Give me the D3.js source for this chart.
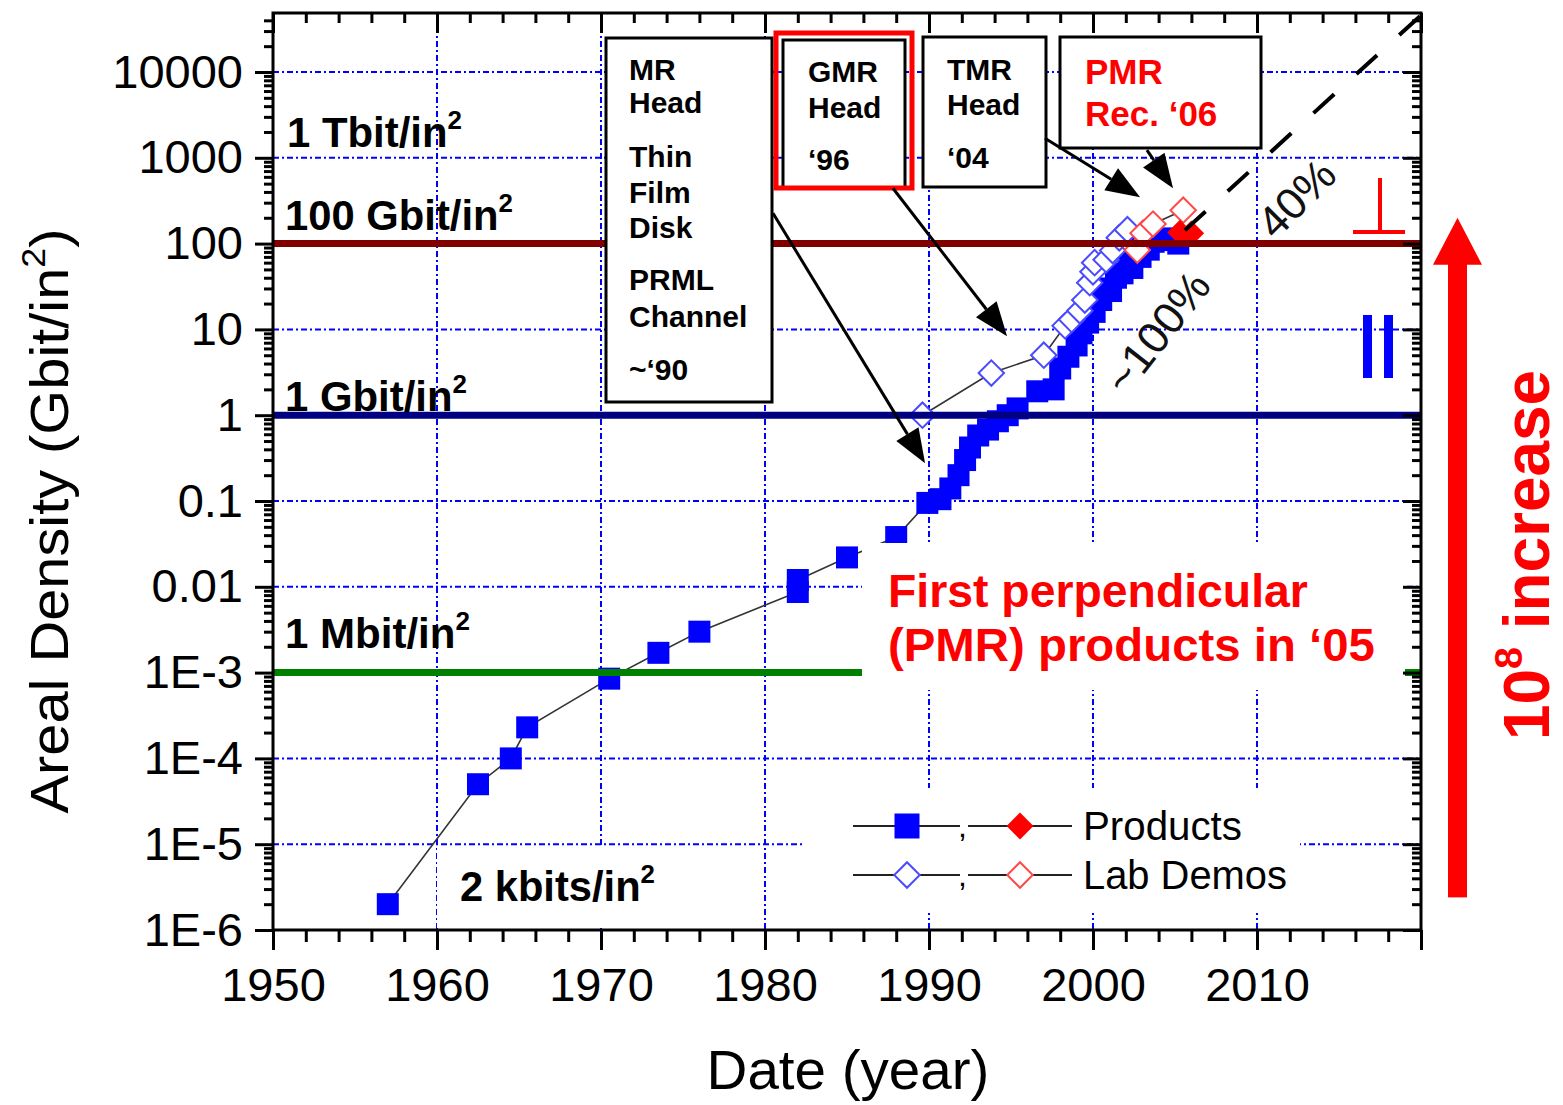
<!DOCTYPE html>
<html><head><meta charset="utf-8">
<script src="https://cdn.jsdelivr.net/npm/d3@7/dist/d3.min.js"></script>
<style>html,body{margin:0;padding:0;background:#fff;} svg{display:block;}</style>
</head><body>
<svg id="chart" width="1563" height="1105"></svg>
<script>
// ---------------- DATA ----------------
const productYears = [1957, 1962.5, 1964.5, 1965.5, 1970.5, 1973.5, 1976, 1982, 1982, 1985, 1988,
  1989.9, 1990.7, 1991.3, 1991.8, 1992.2, 1992.5, 1993.0, 1993.6, 1994.2, 1994.8, 1995.4, 1996.6, 1997.6,
  1998.0, 1998.5, 1999.0, 1999.3, 1999.7, 1999.9, 2000.1, 2000.5, 2000.7, 2001.1, 2001.4, 2001.8, 2002.2,
  2002.4, 2002.9, 2003.0, 2003.4, 2003.7, 2004.1, 2004.4, 2004.8, 2005.2];
const productValues = [2e-6, 5e-5, 1e-4, 2.3e-4, 8.5e-4, 1.7e-3, 3e-3, 8.7e-3, 1.2e-2, 2.2e-2, 3.8e-2,
  0.095, 0.105, 0.14, 0.2, 0.3, 0.42, 0.58, 0.68, 0.85, 1.0, 1.2, 1.9, 2.0,
  3.5, 4.8, 6.5, 9, 12, 20, 16, 22, 30, 28, 40, 45, 60,
  52, 70, 100, 85, 105, 110, 110, 115, 100];
const pmrProductYears = [2005.3, 2006.0];
const pmrProductValues = [135, 132];
const demoYears = [1989.6, 1993.8, 1997.0, 1998.3, 1998.7, 1999.2, 1999.5, 1999.8, 2000.0, 2000.1, 2000.8, 2001.2, 2001.6, 2002.1];
const demoValues = [1.0, 3.1, 5.0, 11, 13, 16.5, 22, 35, 47, 60, 65, 83, 117, 145];
const pmrDemoYears = [2002.7, 2003.05, 2003.66, 2005.5];
const pmrDemoValues = [84, 132, 169, 245];
const trendYears = [2005.6, 2020];
const trendValues = [143, 45900];
const xTickValues = [1950, 1960, 1970, 1980, 1990, 2000, 2010, 2020];
const xTickLabels = ["1950", "1960", "1970", "1980", "1990", "2000", "2010", ""];
const yTickValues = [1e-6, 1e-5, 1e-4, 1e-3, 1e-2, 1e-1, 1, 10, 100, 1000, 10000];
const yTickLabels = ["1E-6", "1E-5", "1E-4", "1E-3", "0.01", "0.1", "1", "10", "100", "1000", "10000"];
const refValues = [100, 1, 1e-3];
const refColors = ["#800000", "#000080", "#008000"];
const levelLabels = ["1 Tbit/in", "100 Gbit/in", "1 Gbit/in", "1 Mbit/in", "2 kbits/in"];
const arrowFromYears = [1980.49, 1987.8, 1997.07, 2003.29];
const arrowFromValues = [226, 442, 1692, 1227];
const arrowToYears = [1989.76, 1994.76, 2002.87, 2004.88];
const arrowToValues = [0.276, 8.33, 347, 442];
const boxTextsA = ["MR", "Head", "Thin", "Film", "Disk", "PRML", "Channel", "~\u201890"];
const boxTextsB = ["GMR", "Head", "\u201896"];
const boxTextsC = ["TMR", "Head", "\u201804"];
const boxTextsD = ["PMR", "Rec. \u201806"];
const legendLabels = ["Products", "Lab Demos"];

// ---------------- SETUP ----------------
const FONT = "'Liberation Sans', Arial, Helvetica, sans-serif";
const svg = d3.select("#chart");
svg.append("rect").attr("width", 1563).attr("height", 1105).attr("fill", "#fff");
const L = 273, R = 1421, T = 13, B = 930;
const x = d3.scaleLinear().domain([1950, 2020]).range([L, R]);
const y = d3.scaleLog().domain([1e-6, 1e4]).range([B, 72]);
const yTop = y.invert(T);

function label(parent, o) {
  const g = parent.append("g").attr("transform", `translate(${o.x},${o.y})${o.rot ? ` rotate(${o.rot})` : ""}`);
  const t = g.append("text").attr("font-family", FONT).attr("font-size", o.size)
    .attr("font-weight", o.bold ? "bold" : "normal").attr("fill", o.fill || "#000")
    .attr("text-anchor", o.anchor || "start");
  if (o.baseline) t.attr("dominant-baseline", o.baseline);
  let shift = 0;
  (Array.isArray(o.text) ? o.text : [o.text]).forEach(p => {
    if (typeof p === "string") {
      const ts = t.append("tspan").text(p);
      if (shift) { ts.attr("dy", shift); shift = 0; }
    } else {
      const r = o.size * 0.42;
      t.append("tspan").attr("font-size", o.size * 0.62).attr("dy", -r).text(p.sup);
      shift = r;
    }
  });
  if (o.width) {
    const w = t.node().getComputedTextLength();
    if (w > 0) t.attr("transform", `scale(${o.width / w},1)`);
  }
  return g;
}

// ---------------- GRID ----------------
const grid = svg.append("g").attr("stroke", "#0000ff").attr("stroke-width", 2).attr("stroke-dasharray", "6,3,2,3");
grid.selectAll("line.h").data(yTickValues.filter(v => v > 1e-6)).join("line")
  .attr("x1", L).attr("x2", R).attr("y1", d => y(d)).attr("y2", d => y(d));
grid.selectAll("line.v").data(xTickValues.filter(v => v > 1950 && v < 2020)).join("line")
  .attr("class", "v").attr("y1", T).attr("y2", B).attr("x1", d => x(d)).attr("x2", d => x(d));

// ---------------- DATA LINES & MARKERS ----------------
const lineGen = d3.line().x(d => x(d[0])).y(d => y(d[1]));
const prod = productYears.map((yr, i) => [yr, productValues[i]]);
const pmrProd = pmrProductYears.map((yr, i) => [yr, pmrProductValues[i]]);
const demo = demoYears.map((yr, i) => [yr, demoValues[i]]);
const pmrDemo = pmrDemoYears.map((yr, i) => [yr, pmrDemoValues[i]]);
const dataG = svg.append("g");
[prod, demo, pmrDemo, pmrProd].forEach(s => {
  dataG.append("path").attr("d", lineGen(s)).attr("fill", "none").attr("stroke", "#333").attr("stroke-width", 1.6);
});
const sq = d3.symbol().type(d3.symbolSquare).size(22 * 22);
const dm = d3.symbol().type(d3.symbolSquare).size(18 * 18);
dataG.selectAll("path.prod").data(prod).join("path").attr("class", "prod")
  .attr("d", sq).attr("transform", d => `translate(${x(d[0])},${y(d[1])})`).attr("fill", "#0000ff");
dataG.selectAll("path.demo").data(demo).join("path").attr("class", "demo")
  .attr("d", dm).attr("transform", d => `translate(${x(d[0])},${y(d[1])}) rotate(45)`)
  .attr("fill", "#fff").attr("stroke", "#4a4aff").attr("stroke-width", 2);
dataG.selectAll("path.pdemo").data(pmrDemo).join("path").attr("class", "pdemo")
  .attr("d", dm).attr("transform", d => `translate(${x(d[0])},${y(d[1])}) rotate(45)`)
  .attr("fill", "#fff").attr("stroke", "#ff4a4a").attr("stroke-width", 2);
dataG.selectAll("path.pprod").data(pmrProd).join("path").attr("class", "pprod")
  .attr("d", dm).attr("transform", d => `translate(${x(d[0])},${y(d[1])}) rotate(45)`)
  .attr("fill", "#ff0000");

// ---------------- REFERENCE LINES ----------------
refValues.forEach((v, i) => {
  svg.append("line").attr("x1", L).attr("x2", R).attr("y1", y(v)).attr("y2", y(v))
    .attr("stroke", refColors[i]).attr("stroke-width", 7);
});
// trend line (40%)
svg.append("path").attr("d", lineGen(trendYears.map((yr, i) => [yr, trendValues[i]])))
  .attr("stroke", "#000").attr("stroke-width", 4).attr("stroke-dasharray", "28,30").attr("fill", "none");

// ---------------- WHITE LABEL BACKGROUNDS ----------------
const bg = svg.append("g").attr("fill", "#fff");
bg.append("rect").attr("x", 437).attr("y", 846).attr("width", 247).attr("height", 82);
bg.append("rect").attr("x", 862).attr("y", 543).attr("width", 543).attr("height", 147);
bg.append("rect").attr("x", 805).attr("y", 788).attr("width", 495).attr("height", 125);

// ---------------- AXES ----------------
const minorY = [];
for (let d = -6; d <= 4; d++) for (let k = 2; k <= 9; k++) { const v = k * Math.pow(10, d); if (v <= yTop) minorY.push(v); }
const minorX = d3.range(1952, 2020, 2).filter(v => v % 10 !== 0);
function styleAxis(g) {
  g.select(".domain").remove();
  g.selectAll("line").attr("stroke", "#000").attr("stroke-width", 3);
  g.selectAll("text").attr("font-family", FONT).attr("font-size", 47).attr("fill", "#000");
}
svg.append("g").attr("transform", `translate(${L},0)`)
  .call(d3.axisLeft(y).tickValues(yTickValues).tickFormat((d, i) => yTickLabels[i]).tickSize(18).tickPadding(12))
  .call(styleAxis);
svg.append("g").attr("transform", `translate(${L},0)`)
  .call(d3.axisLeft(y).tickValues(minorY).tickFormat("").tickSize(9)).call(styleAxis);
svg.append("g").attr("transform", `translate(${R},0)`)
  .call(d3.axisLeft(y).tickValues(yTickValues).tickFormat("").tickSize(18)).call(styleAxis);
svg.append("g").attr("transform", `translate(${R},0)`)
  .call(d3.axisLeft(y).tickValues(minorY).tickFormat("").tickSize(9)).call(styleAxis);
svg.append("g").attr("transform", `translate(0,${B})`)
  .call(d3.axisBottom(x).tickValues(xTickValues).tickFormat((d, i) => xTickLabels[i]).tickSize(20).tickPadding(18))
  .call(styleAxis);
svg.append("g").attr("transform", `translate(0,${B})`)
  .call(d3.axisBottom(x).tickValues(minorX).tickFormat("").tickSize(12)).call(styleAxis);
svg.append("g").attr("transform", `translate(0,${T})`)
  .call(d3.axisBottom(x).tickValues(xTickValues).tickFormat("").tickSize(20)).call(styleAxis);
svg.append("g").attr("transform", `translate(0,${T})`)
  .call(d3.axisBottom(x).tickValues(minorX).tickFormat("").tickSize(10)).call(styleAxis);
svg.append("rect").attr("x", L).attr("y", T).attr("width", R - L).attr("height", B - T)
  .attr("fill", "none").attr("stroke", "#000").attr("stroke-width", 3);

// axis titles
label(svg, { x: 848, y: 1089, text: "Date (year)", size: 55, anchor: "middle", width: 283 });
label(svg, { x: 68, y: 521, rot: -90, text: ["Areal Density (Gbit/in", { sup: "2" }, ")"], size: 54, anchor: "middle", width: 585 });

// ---------------- LEVEL LABELS ----------------
const lvlX = [287, 285, 285, 285, 460];
const lvlY = [147, 230, 411, 648, 901];
const lvlW = [175, 228, 182, 185, 195];
levelLabels.forEach((t, i) => label(svg, { x: lvlX[i], y: lvlY[i], text: [t, { sup: "2" }], size: 42, bold: true, width: lvlW[i] }));

// ---------------- ANNOTATION BOXES ----------------
const boxes = svg.append("g");
function box(x0, y0, w, h, color, sw) {
  boxes.append("rect").attr("x", x0).attr("y", y0).attr("width", w).attr("height", h)
    .attr("fill", color ? "none" : "#fff").attr("stroke", color || "#000").attr("stroke-width", sw || 3);
}
box(606, 38, 166, 364);
box(783, 40, 122, 148);
box(776, 33, 136, 155, "#ff0000", 5);
box(923, 37, 123, 150);
box(1060, 37, 201, 111);
const aY = [80, 113, 167, 203, 238, 290, 327, 380];
boxTextsA.forEach((t, i) => label(svg, { x: 629, y: aY[i], text: t, size: 30, bold: true }));
const bY = [82, 118, 170];
boxTextsB.forEach((t, i) => label(svg, { x: 808, y: bY[i], text: t, size: 30, bold: true }));
const cY = [80, 115, 168];
boxTextsC.forEach((t, i) => label(svg, { x: 947, y: cY[i], text: t, size: 30, bold: true }));
const dY = [84, 126];
boxTextsD.forEach((t, i) => label(svg, { x: 1085, y: dY[i], text: t, size: 35, bold: true, fill: "#ff0000" }));

// arrows
arrowFromYears.forEach((_, i) => {
  const x1 = x(arrowFromYears[i]), y1 = y(arrowFromValues[i]);
  const x2 = x(arrowToYears[i]), y2 = y(arrowToValues[i]);
  const a = Math.atan2(y2 - y1, x2 - x1), hl = 34, hw = 13;
  const bx = x2 - hl * Math.cos(a), by = y2 - hl * Math.sin(a);
  svg.append("line").attr("x1", x1).attr("y1", y1).attr("x2", bx).attr("y2", by).attr("stroke", "#000").attr("stroke-width", 3);
  svg.append("path").attr("fill", "#000").attr("d",
    `M${x2},${y2}L${bx + hw * Math.sin(a)},${by - hw * Math.cos(a)}L${bx - hw * Math.sin(a)},${by + hw * Math.cos(a)}Z`);
});

// growth labels
label(svg, { x: 1157, y: 332, rot: -52, text: "~100%", size: 44, anchor: "middle", baseline: "central", width: 141, fill: "#111" });
label(svg, { x: 1296, y: 198, rot: -45, text: "40%", size: 44, anchor: "middle", baseline: "central", width: 90, fill: "#111" });

// PMR text
label(svg, { x: 888, y: 607, text: "First perpendicular", size: 46, bold: true, fill: "#ff0000", width: 420 });
label(svg, { x: 888, y: 661, text: "(PMR) products in \u201805", size: 46, bold: true, fill: "#ff0000", width: 487 });

// ---------------- LEGEND ----------------
const leg = svg.append("g");
const legY = [826, 875];
legY.forEach((ly, i) => {
  leg.append("line").attr("x1", 853).attr("x2", 960).attr("y1", ly).attr("y2", ly).attr("stroke", "#222").attr("stroke-width", 2);
  leg.append("line").attr("x1", 968).attr("x2", 1072).attr("y1", ly).attr("y2", ly).attr("stroke", "#222").attr("stroke-width", 2);
  label(leg, { x: 958, y: ly + 11, text: ",", size: 32 });
  label(leg, { x: 1083, y: ly + 14, text: legendLabels[i], size: 40, width: i === 0 ? 159 : 204 });
});
leg.append("path").attr("d", d3.symbol().type(d3.symbolSquare).size(25 * 25)).attr("transform", `translate(907,${legY[0]})`).attr("fill", "#0000ff");
leg.append("path").attr("d", d3.symbol().type(d3.symbolSquare).size(19 * 19)).attr("transform", `translate(1020,${legY[0]}) rotate(45)`).attr("fill", "#ff0000");
leg.append("path").attr("d", d3.symbol().type(d3.symbolSquare).size(18 * 18)).attr("transform", `translate(907,${legY[1]}) rotate(45)`)
  .attr("fill", "#fff").attr("stroke", "#4a4aff").attr("stroke-width", 2);
leg.append("path").attr("d", d3.symbol().type(d3.symbolSquare).size(18 * 18)).attr("transform", `translate(1020,${legY[1]}) rotate(45)`)
  .attr("fill", "#fff").attr("stroke", "#ff4a4a").attr("stroke-width", 2);

// ---------------- RIGHT-SIDE SYMBOLS ----------------
svg.append("line").attr("x1", 1380).attr("x2", 1380).attr("y1", 178).attr("y2", 233).attr("stroke", "#ff0000").attr("stroke-width", 4);
svg.append("line").attr("x1", 1353).attr("x2", 1405).attr("y1", 232).attr("y2", 232).attr("stroke", "#ff0000").attr("stroke-width", 4);
svg.append("rect").attr("x", 1363).attr("y", 315).attr("width", 9).attr("height", 63).attr("fill", "#0000ff");
svg.append("rect").attr("x", 1384).attr("y", 315).attr("width", 9).attr("height", 63).attr("fill", "#0000ff");

// big red arrow: spans ~10^8
const arrBottom = y(2.4e-6), arrTip = y(200);
svg.append("rect").attr("x", 1448).attr("y", arrTip + 45).attr("width", 19).attr("height", arrBottom - arrTip - 45).attr("fill", "#ff0000");
svg.append("path").attr("d", `M1457.5,${arrTip}L1482,${arrTip + 47}L1433,${arrTip + 47}Z`).attr("fill", "#ff0000");
label(svg, { x: 1549, y: 740, rot: -90, text: ["10", { sup: "8" }, " increase"], size: 64, bold: true, fill: "#ff0000", width: 370 });
</script>
</body></html>
